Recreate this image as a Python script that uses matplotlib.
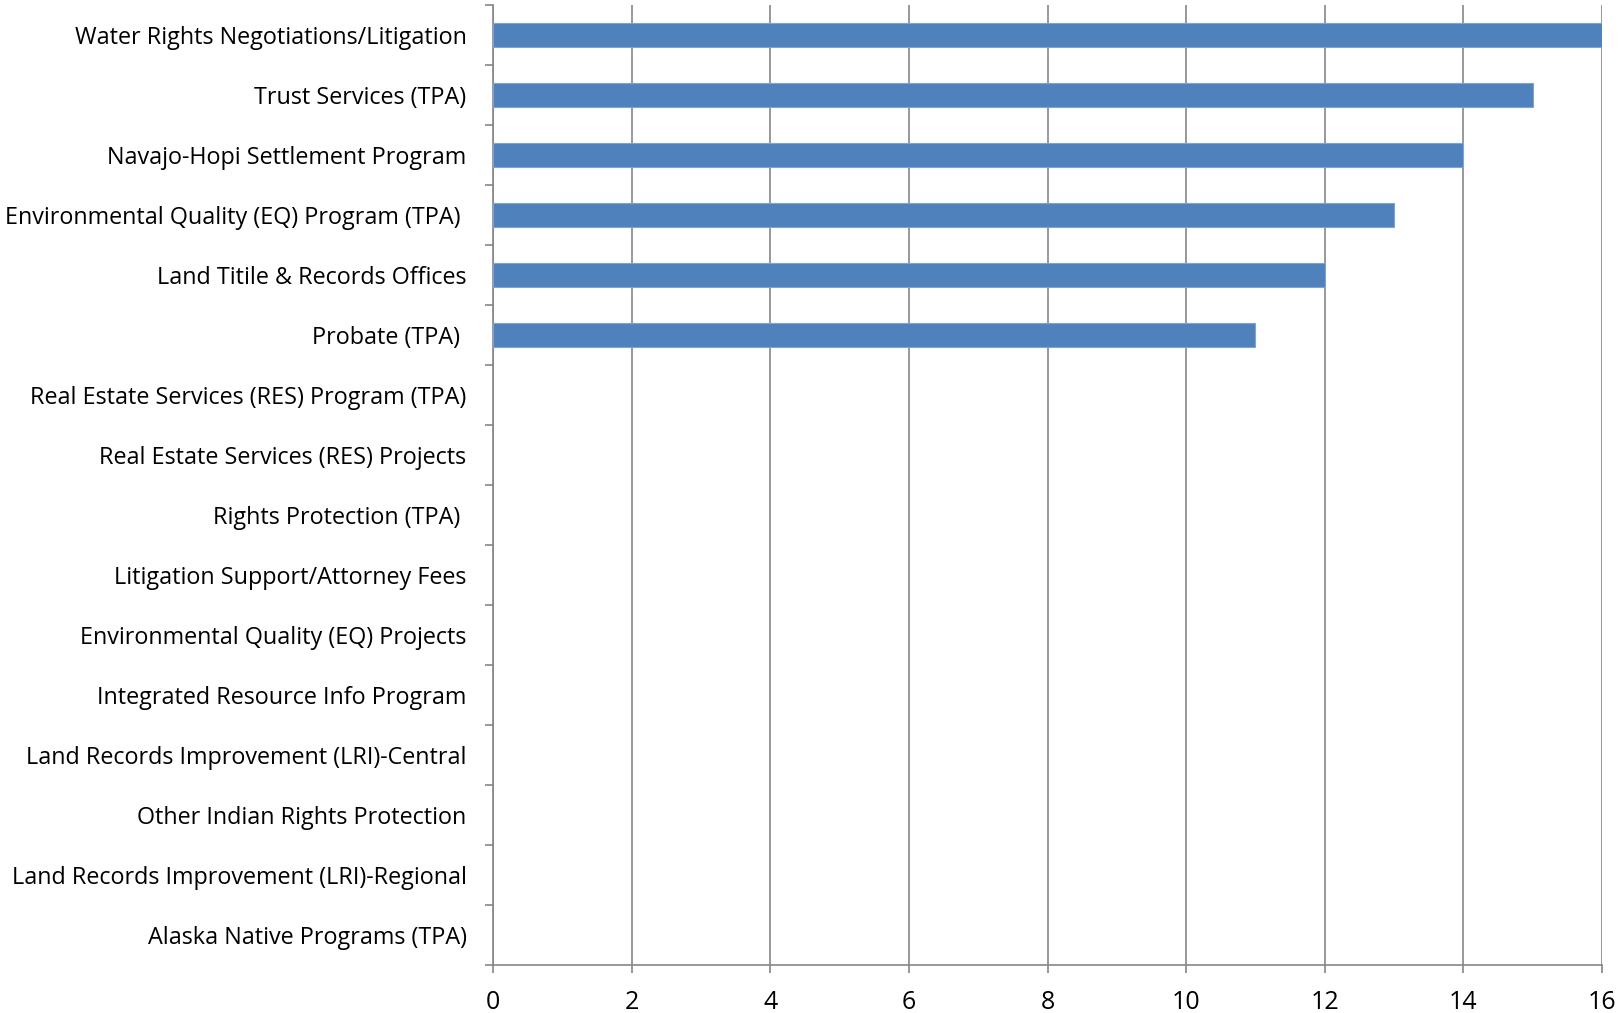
import matplotlib
matplotlib.use("Agg")
import matplotlib.pyplot as plt
import numpy as np

# ── Data ─────────────────────────────────────────────────────────
categories = [
    "Water Rights Negotiations/Litigation",
    "Trust Services (TPA)",
    "Navajo-Hopi Settlement Program",
    "Environmental Quality (EQ) Program (TPA) ",
    "Land Titile & Records Offices",
    "Probate (TPA) ",
    "Real Estate Services (RES) Program (TPA)",
    "Real Estate Services (RES) Projects",
    "Rights Protection (TPA) ",
    "Litigation Support/Attorney Fees",
    "Environmental Quality (EQ) Projects",
    "Integrated Resource Info Program",
    "Land Records Improvement (LRI)-Central",
    "Other Indian Rights Protection",
    "Land Records Improvement (LRI)-Regional",
    "Alaska Native Programs (TPA)",
]
values = [16, 15, 14, 13, 12, 11, 0, 0, 0, 0, 0, 0, 0, 0, 0, 0]
x_ticks = [0, 2, 4, 6, 8, 10, 12, 14, 16]

BAR_COLOR = "#4F81BD"
EDGE_COLOR = "#7FA3D3"
GRID_COLOR = "#868686"

plt.rcParams["font.family"] = ["Open Sans", "DejaVu Sans"]

fig = plt.figure(figsize=(16.23, 10.13), dpi=100)
ax = fig.add_axes([493 / 1623, 1 - 965 / 1013, (1602 - 493) / 1623, (965 - 5) / 1013])

y = np.arange(len(categories))
edges = [EDGE_COLOR if v > 0 else "none" for v in values]
ax.barh(y, values, height=0.4, color=BAR_COLOR, edgecolor=edges, linewidth=0.8, zorder=3)

ax.set_xlim(0, 16)
ax.set_ylim(len(categories) - 0.5, -0.5)
ax.set_xticks(x_ticks)
ax.set_xticklabels([str(t) for t in x_ticks], fontsize=18)

ax.set_yticks(y)
ax.set_yticklabels(categories, fontsize=16.8)
ax.set_yticks(np.arange(len(categories) + 1) - 0.5, minor=True)
ax.tick_params(axis="y", which="major", length=0, pad=19)
ax.tick_params(axis="y", which="minor", length=6, color=GRID_COLOR, width=1.2)
ax.tick_params(axis="x", which="major", length=6, color=GRID_COLOR, width=1.2, pad=12)

ax.grid(axis="x", color=GRID_COLOR, linewidth=1.2, zorder=0)
for s in ["top", "right"]:
    ax.spines[s].set_visible(False)
for s in ["left", "bottom"]:
    ax.spines[s].set_color(GRID_COLOR)
    ax.spines[s].set_linewidth(1.2)

fig.savefig("out.png", dpi=100)
